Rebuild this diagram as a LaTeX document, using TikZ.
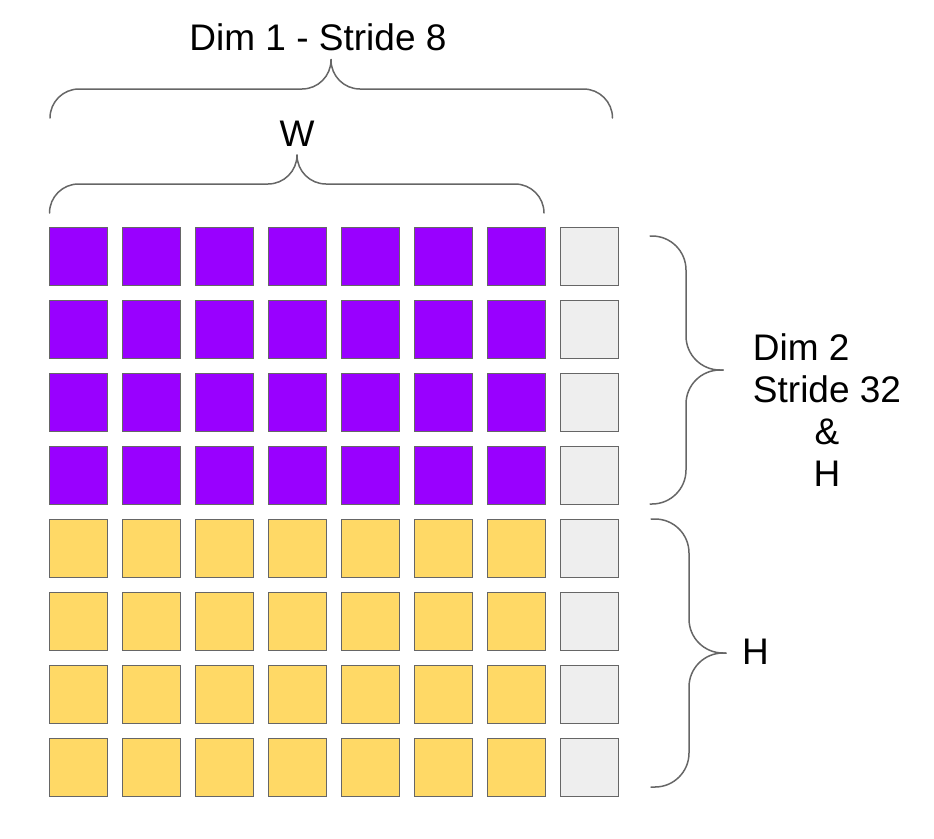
\documentclass[tikz,border=0pt]{standalone}
\usepackage{fontspec}
\setmainfont{Liberation Sans}
\definecolor{purp}{HTML}{9900FF}
\definecolor{yell}{HTML}{FFD966}
\definecolor{lgray}{HTML}{EEEEEE}
\definecolor{edge}{HTML}{666666}
\begin{document}
\begin{tikzpicture}[x=1pt,y=-1pt,
  cell/.style={draw=edge,line width=1.5pt,minimum size=58pt,inner sep=0pt,outer sep=0pt},
  brace/.style={draw=edge,line width=1.5pt,line cap=round},
  lbl/.style={font=\fontsize{37}{42.2}\selectfont,inner sep=0pt,anchor=base}]
\useasboundingbox (0,0) rectangle (934,838);
% grid
\foreach \j in {0,...,7}{
  \foreach \i in {0,...,6}{
    \ifnum\j<4
      \node[cell,fill=purp] (c-\i-\j) at (78.5+73*\i,256.5+73*\j) {};
    \else
      \node[cell,fill=yell] (c-\i-\j) at (78.5+73*\i,256.5+73*\j) {};
    \fi
  }
  \node[cell,fill=lgray] (c-7-\j) at (78.5+73*7,256.5+73*\j) {};
}
% W brace
\coordinate (wL) at (49.5,213);
\coordinate (wA) at (297,155);
\coordinate (wR) at (544,213);
\draw[brace,rounded corners=29pt] (wL) |- (297,184) -- (wA);
\draw[brace,rounded corners=29pt] (wA) -- (297,184) -| (wR);
\node[lbl] (w) at (297,146.7) {W};
% Dim 1 brace
\coordinate (dL) at (50,118);
\coordinate (dA) at (331,59.5);
\coordinate (dR) at (612.5,118);
\draw[brace,rounded corners=29pt] (dL) |- (331,89) -- (dA);
\draw[brace,rounded corners=29pt] (dA) -- (331,89) -| (dR);
\node[lbl] (d1) at (318,50.7) {Dim 1 - Stride 8};
% Dim 2 brace
\coordinate (eT) at (650,236);
\coordinate (eA) at (723,370);
\coordinate (eB) at (650,504);
\draw[brace,rounded corners=34pt] (eT) -| (686,370) -- (eA);
\draw[brace,rounded corners=34pt] (eA) -- (686,370) |- (eB);
\node[lbl,align=center] (d2) at (827,486.7) {\makebox[0pt][l]{Dim 2}\phantom{Stride 32}\\Stride 32\\\&\\H};
% H brace
\coordinate (hT) at (651,519);
\coordinate (hA) at (726,653);
\coordinate (hB) at (651,787);
\draw[brace,rounded corners=34pt] (hT) -| (689,653) -- (hA);
\draw[brace,rounded corners=34pt] (hA) -- (689,653) |- (hB);
\node[lbl,anchor=base west] (h) at (742,664) {H};
\end{tikzpicture}
\end{document}
